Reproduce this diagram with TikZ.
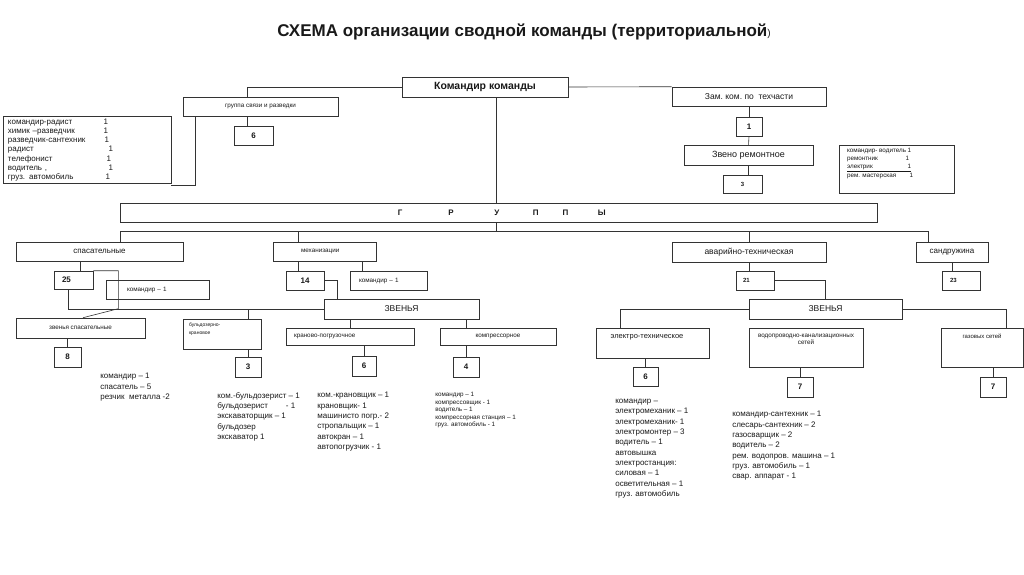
\documentclass[tikz,border=0pt]{standalone}
\usepackage{fontspec}
\setmainfont{Liberation Sans}
\usetikzlibrary{positioning}

\newcommand{\fs}[2]{\fontsize{#1}{#2}\selectfont}

\begin{document}
\begin{tikzpicture}
	[x=1pt,y=-1pt,line width=0.6pt,draw=black!80,
	every node/.style={inner sep=0pt,text=black!90},
	sz/.style 2 args={minimum width=#1pt,minimum height=#2pt},
	box/.style={draw=black!80,line width=0.6pt},
	num/.style={box,font=\bfseries\fs{8}{9}},
	lnum/.style={num,align=left},
	smallnum/.style={box,align=left,font=\bfseries\fs{6}{7}},
	grp/.style={box,font=\fs{8}{9}},
	lbl/.style={box,font=\fs{6.3}{7.5}},
	list/.style={anchor=north west,align=left,font=\fs{8}{10.3}}]
	\useasboundingbox (0,0) rectangle (1024,574);

	\node (title) at (524,32) {\bfseries\fs{17}{19}СХЕМА организации сводной команды (территориальной{\mdseries\fs{10}{12})}};

	% top level
	\node[box,sz={166}{20},font=\bfseries\fs{10.5}{12}] (cmd) at (485,87) {Командир команды};
	\node[box,sz={154}{19},font=\fs{8.5}{10}] (zam) at (749,96.5) {Зам.\ ком.\ по\ \ техчасти};
	\node[lbl,sz={155}{19}] (svyaz) at (260.5,106.5) {группа связи и разведки};
	\node[num,sz={39}{19}] (six) at (253.5,135.5) {6};
	\node[box,sz={168}{67},align=left,inner xsep=5pt,text width=158pt,font=\fs{8}{9.3}] (crew) at (87,150)
		{\makebox[100pt][l]{командир-радист\hfill1}\\
		 \makebox[100pt][l]{химик –разведчик\hfill1}\\
		 \makebox[101pt][l]{разведчик-сантехник\hfill1}\\
		 \makebox[105pt][l]{радист\hfill1}\\
		 \makebox[103pt][l]{телефонист\hfill1}\\
		 \makebox[105pt][l]{водитель ,\hfill1}\\
		 \makebox[102pt][l]{груз. автомобиль\hfill1}};
	\node[num,sz={26}{19}] (one) at (749,126.5) {1};
	\node[box,sz={129}{20},font=\fs{9}{10}] (zveno) at (748.5,155) {Звено ремонтное};
	\node[smallnum,sz={39}{18},align=center] (three) at (742.5,184) {3};
	\node[box,sz={115}{48}] (repair) at (896.5,169) {};
	\node[anchor=north west,align=left,font=\fs{6.3}{8.3}] (repair-t) at ([xshift=8pt,yshift=-3pt]repair.north west)
		{\makebox[64pt][l]{командир- водитель\hfill1}\\
		 \makebox[62pt][l]{ремонтник\hfill1}\\
		 \underline{\makebox[64pt][l]{электрик\hfill1}}\\
		 \makebox[66pt][l]{рем. мастерская\hfill1}};

	\node[box,sz={757}{19},font=\bfseries\fs{8}{9}] (gruppy) at (498.5,212.5)
		{\hspace{6.4pt}Г\hspace{46pt}Р\hspace{40.7pt}У\hspace{33.4pt}П\hspace{24.2pt}П\hspace{29.3pt}Ы};

	% groups
	\node[grp,sz={167}{19}] (spas) at (99.5,251.5) {спасательные};
	\node[lbl,sz={103}{19},align=left,inner xsep=28pt,text width=47pt] (mech) at (324.5,251.5) {механизации};
	\node[grp,sz={154}{20},font=\fs{8.5}{10}] (avar) at (749,252) {аварийно-техническая};
	\node[grp,sz={72}{20}] (sand) at (952,252) {сандружина};

	% rescue
	\node[lnum,sz={39}{18},inner xsep=8pt,text width=23pt] (n25) at (73.5,280) {25};
	\node[lbl,sz={103}{19},align=left,inner xsep=21pt,text width=61pt] (kom1a) at (157.5,289.5) {командир – 1};
	\node[lbl,sz={129}{20}] (zvsp) at (80.5,328) {звенья спасательные};
	\node[num,sz={27}{20}] (n8) at (67.5,357) {8};
	\node[list] (spas-l) at (100,373) {командир – 1\\спасатель – 5\\резчик\ \ металла -2};

	% mechanisation
	\node[num,sz={38}{19}] (n14) at (305,280.5) {14};
	\node[lbl,sz={77}{19},align=left,inner xsep=9pt,text width=59pt] (kom1b) at (388.5,280.5) {командир – 1};
	\node[grp,sz={155}{20},font=\fs{8.5}{10}] (zv1) at (401.5,309) {ЗВЕНЬЯ};
	\node[box,sz={78}{30}] (buld) at (222,334) {};
	\node[anchor=north west,align=left,font=\fs{5}{7.5}] (buld-t) at ([xshift=6pt,yshift=-4pt]buld.north west) {бульдозерно-\\крановое};
	\node[num,sz={26}{20}] (n3) at (248,367) {3};
	\node[lbl,sz={128}{17},align=left,inner xsep=8pt,text width=112pt] (kran) at (350,336.5) {краново-погрузочное};
	\node[num,sz={24}{20}] (n6a) at (364,366) {6};
	\node[lbl,sz={116}{17}] (komp) at (498,336.5) {компрессорное};
	\node[num,sz={26}{20}] (n4) at (466,367) {4};
	\node[list] (buld-l) at (217,392) {ком.-бульдозерист – 1\\бульдозерист\hspace{18pt}- 1\\экскаваторщик – 1\\бульдозер\\экскаватор 1};
	\node[list] (kran-l) at (317,392) {ком.-крановщик – 1\\крановщик- 1\\машинисто погр.- 2\\стропальщик – 1\\автокран – 1\\автопогрузчик - 1};
	\node[list,font=\fs{6.3}{7.5}] (komp-l) at (435,392) {командир – 1\\компрессовщик - 1\\водитель – 1\\компрессорная станция – 1\\груз. автомобиль - 1};

	% emergency-technical
	\node[smallnum,sz={38}{19},inner xsep=7pt,text width=24pt] (n21) at (755,280.5) {21};
	\node[smallnum,sz={38}{19},inner xsep=8pt,text width=22pt] (n23) at (961,280.5) {23};
	\node[grp,sz={153}{20},font=\fs{8.5}{10}] (zv2) at (825.5,309) {ЗВЕНЬЯ};
	\node[box,sz={113}{30}] (elek) at (652.5,343) {};
	\node[font=\fs{7.5}{9}] (elek-t) at ([xshift=-5.5pt,yshift=-10pt]elek.north) {электро-техническое};
	\node[num,sz={25}{19}] (n6b) at (645.5,376.5) {6};
	\node[box,sz={114}{39}] (vodo) at (806,347.5) {};
	\node[anchor=north,align=center,font=\fs{6.3}{7.5}] (vodo-t) at ([yshift=-6pt]vodo.north) {водопроводно-канализационных\\сетей};
	\node[num,sz={26}{20}] (n7a) at (800,387) {7};
	\node[box,sz={82}{39}] (gaz) at (982,347.5) {};
	\node[font=\fs{6}{7}] (gaz-t) at ([yshift=-9pt]gaz.north) {газовых сетей};
	\node[num,sz={26}{20}] (n7b) at (993,387) {7};
	\node[list] (elek-l) at (615,399) {командир –\\электромеханик – 1\\электромеханик- 1\\электромонтер – 3\\водитель – 1\\автовышка\\электростанция:\\силовая – 1\\осветительная – 1\\груз. автомобиль};
	\node[list] (vodo-l) at (732,411) {командир-сантехник – 1\\слесарь-сантехник – 2\\газосварщик – 2\\водитель – 2\\рем. водопров. машина – 1\\груз. автомобиль – 1\\свар. аппарат - 1};

	% connections, top
	\draw (cmd.west) -| ([xshift=-13.5pt]svyaz.north);
	\draw (cmd.east) -- (zam.north west);
	\draw ([xshift=-13.5pt]svyaz.south) -- ([xshift=-13.5pt]svyaz.south |- six.north);
	\draw ([xshift=13pt]svyaz.south west) |- ([yshift=-1pt]crew.south east);
	\draw (zam.south) -- (one.north);
	\draw (one.south) -- (zveno.north);
	\draw (zveno.south) -- (zveno.south |- three.north);
	\draw ([xshift=11pt]cmd.south) -- ([xshift=11pt]cmd.south |- gruppy.north);
	\draw ([xshift=11pt]cmd.south |- gruppy.south) -- ++(0,10);
	\draw ([xshift=20.5pt]spas.north) -- ++(0,-10) -| ([xshift=-24pt]sand.north);
	\draw ([xshift=-26.5pt]mech.north) -- ++(0,-10);
	\draw (avar.north) -- ++(0,-10);

	% rescue
	\draw ([xshift=6.5pt]n25.north) -- ([xshift=6.5pt]n25.north |- spas.south);
	\draw (n25.north east) -- ++(25,0) -- ++(0,38) -- ([xshift=2.5pt]zvsp.north);
	\draw ([xshift=-5.5pt]n25.south) |- (zv1.west);
	\draw (n8.north |- zvsp.south) -- (n8.north);

	% mechanisation
	\draw ([xshift=-7pt]n14.north) -- ++(0,-10);
	\draw ([xshift=-26.5pt]kom1b.north) -- ++(0,-10);
	\draw (n14.east) -| ([xshift=-64.5pt]zv1.north);
	\draw (n3.north |- zv1.west) -- (n3.north |- buld.north);
	\draw (n3.north |- buld.south) -- (n3.north);
	\draw (kran.north |- zv1.south) -- (kran.north);
	\draw (n6a.north |- kran.south) -- (n6a.north);
	\draw (n4.north |- zv1.south) -- (n4.north |- komp.north);
	\draw (n4.north |- komp.south) -- (n4.north);

	% emergency-technical
	\draw (avar.south) -- (avar.south |- n21.north);
	\draw (n21.east) -| (zv2.north);
	\draw (zv2.west) -| ([xshift=-32.5pt]elek.north);
	\draw (zv2.east) -| ([xshift=24pt]gaz.north);
	\draw (n6b.north |- elek.south) -- (n6b.north);
	\draw (n7a.north |- vodo.south) -- (n7a.north);
	\draw (n7b.north |- gaz.south) -- (n7b.north);
	\draw (sand.south) -- (sand.south |- n23.north);
\end{tikzpicture}
\end{document}
